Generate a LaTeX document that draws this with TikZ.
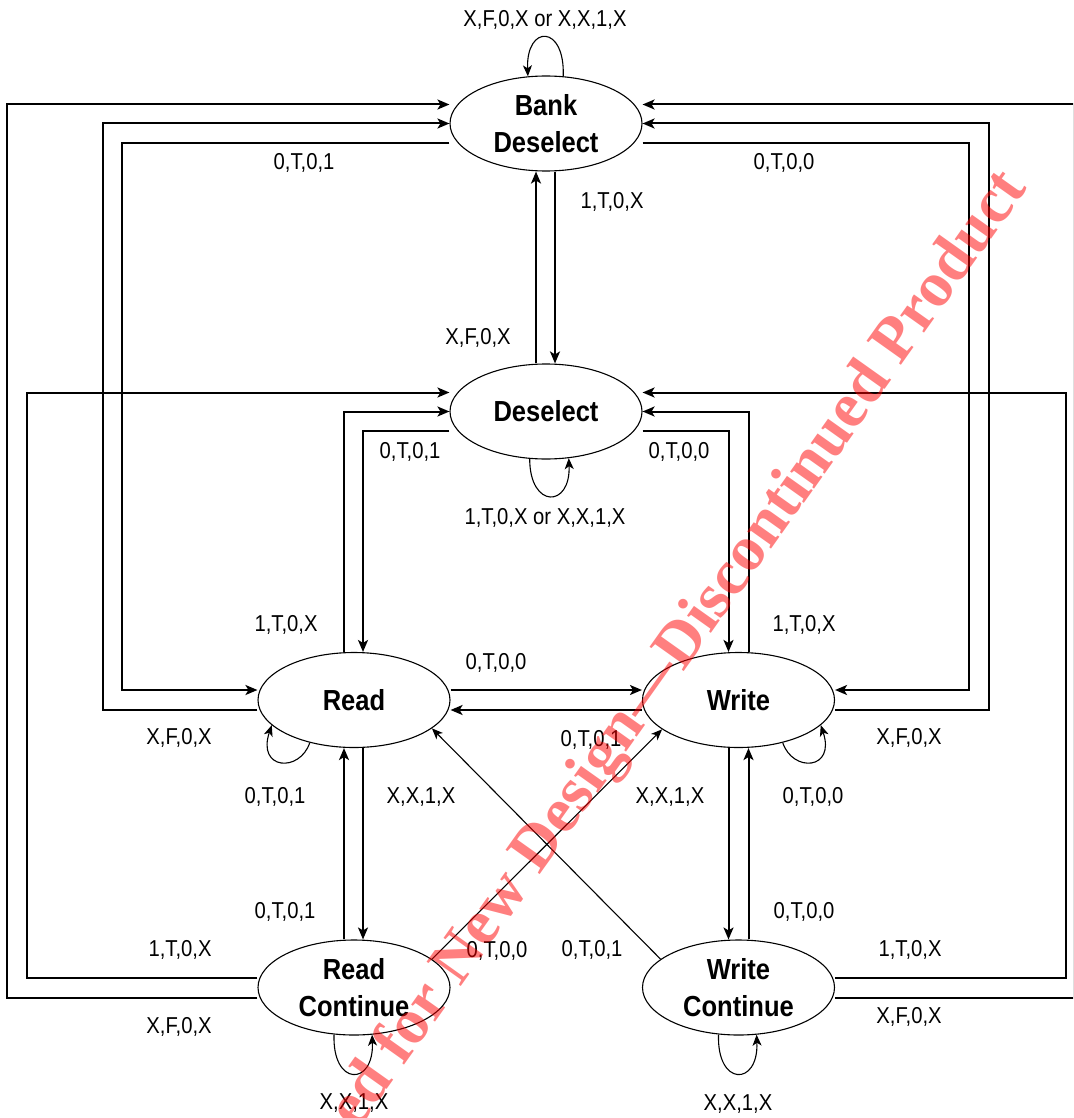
\documentclass[tikz,border=0pt]{standalone}
\usepackage{fontspec}
\setmainfont{Liberation Sans}[FakeStretch=0.88]
\newfontfamily\wmfont{Liberation Serif}
\usetikzlibrary{shapes.geometric,arrows.meta}
\begin{document}
\begin{tikzpicture}[x=1pt,y=-1pt,
  state/.style={ellipse, draw, line width=1.1pt, fill=white, minimum width=192pt, minimum height=95pt, inner sep=0pt, align=center, font=\fontsize{29}{37}\selectfont\bfseries},
  conn/.style={line width=2pt, -{Stealth[length=12pt,width=10pt,inset=3pt]}},
  thinconn/.style={line width=1.1pt, -{Stealth[length=11pt,width=9pt,inset=3pt]}},
  lab/.style={inner sep=0pt, font=\fontsize{23}{27}\selectfont},
  wm/.style={inner sep=0pt, text=red, text opacity=0.5, font=\wmfont\fontsize{64}{70}\selectfont\bfseries}]
\clip (0,0) rectangle (1073,1118);
\fill[white] (0,0) rectangle (1073,1118);

% states
\node[state] (BD) at (546,123.5) {Bank\\Deselect};
\node[state] (DS) at (546,411.5) {Deselect};
\node[state] (RD) at (354,700) {Read};
\node[state] (WR) at (738.5,700) {Write};
\node[state] (RC) at (354,987.5) {Read\\Continue};
\node[state] (WC) at (738.5,987.5) {Write\\Continue};

% Bank Deselect <-> Deselect
\draw[conn] ([xshift=9pt]BD.south) -- ([xshift=9pt]DS.north);
\draw[conn] ([xshift=-10pt]DS.north) -- ([xshift=-10pt]BD.south);

% left side loops
\draw[conn] ([yshift=-19.5pt]BD.west) -- ++(-327,0) |- ([yshift=10pt]RD.west);
\draw[conn] ([yshift=-10pt]RD.west) -- ++(-154,0) |- (BD.west);
\draw[conn] ([yshift=-10pt]RC.west) -- ++(-250.4,0) |- ([yshift=19pt]BD.west);
\draw[conn] ([yshift=10pt]RC.west) -- ++(-230.5,0) |- ([yshift=19pt]DS.west);
\draw[conn] ([xshift=-10pt]RD.north) |- (DS.west);
\draw[conn] ([yshift=-19.5pt]DS.west) -| ([xshift=9pt]RD.north);

% right side loops
\draw[conn] ([yshift=-19.5pt]BD.east) -- ++(326,0) |- ([yshift=10pt]WR.east);
\draw[conn] ([yshift=-10pt]WR.east) -- ++(153.5,0) |- (BD.east);
\draw[conn] ([yshift=-10pt]WC.east) -- ++(239,0) |- ([yshift=19pt]BD.east);
\draw[conn] ([yshift=10pt]WC.east) -- ++(231,0) |- ([yshift=19pt]DS.east);
\draw[conn] ([xshift=10pt]WR.north) |- (DS.east);
\draw[conn] ([yshift=-19.5pt]DS.east) -| ([xshift=-10pt]WR.north);

% Read <-> Write
\draw[conn] ([yshift=10pt]RD.east) -- ([yshift=10pt]WR.west);
\draw[conn] ([yshift=-10pt]WR.west) -- ([yshift=-10pt]RD.east);

% Read <-> Read Continue, Write <-> Write Continue
\draw[conn] ([xshift=9pt]RD.south) -- ([xshift=9pt]RC.north);
\draw[conn] ([xshift=-10pt]RC.north) -- ([xshift=-10pt]RD.south);
\draw[conn] ([xshift=-10pt]WR.south) -- ([xshift=-10pt]WC.north);
\draw[conn] ([xshift=10pt]WC.north) -- ([xshift=10pt]WR.south);

% diagonals
\draw[thinconn] (RC.20) -- (WR.201);
\draw[thinconn] (WC.160) -- (RD.-20);

% self loops
\draw[thinconn] (BD.70) .. controls +(2,-52) and +(-2,-52) .. (BD.111);
\draw[thinconn] (DS.251) .. controls +(0,50) and +(2,50) .. (DS.-64);
\draw[thinconn] (RD.224) .. controls +(-10,30) and +(-15,45) .. (RD.197);
\draw[thinconn] (WR.-44) .. controls +(10,30) and +(15,45) .. (WR.-17);
\draw[thinconn] (RC.247) .. controls +(-2,52) and +(2,52) .. (RC.-69);
\draw[thinconn] (WC.247) .. controls +(-2,52) and +(2,52) .. (WC.-69);

% labels
\node[lab] (l1) at (545,20) {X,F,0,X or X,X,1,X};
\node[lab] (l2) at (304,163) {0,T,0,1};
\node[lab] (l3) at (784,163) {0,T,0,0};
\node[lab] (l4) at (612,202) {1,T,0,X};
\node[lab] (l5) at (478,338) {X,F,0,X};
\node[lab] (l6) at (410,452) {0,T,0,1};
\node[lab] (l7) at (679,452) {0,T,0,0};
\node[lab] (l8) at (545,518) {1,T,0,X or X,X,1,X};
\node[lab] (l9) at (286,625) {1,T,0,X};
\node[lab] (l10) at (804,625) {1,T,0,X};
\node[lab] (l11) at (496,663) {0,T,0,0};
\node[lab] (l12) at (179,738) {X,F,0,X};
\node[lab] (l13) at (591,740) {0,T,0,1};
\node[lab] (l14) at (909,738) {X,F,0,X};
\node[lab] (l15) at (275,797) {0,T,0,1};
\node[lab] (l16) at (421,797) {X,X,1,X};
\node[lab] (l17) at (670,797) {X,X,1,X};
\node[lab] (l18) at (813,797) {0,T,0,0};
\node[lab] (l19) at (285,912) {0,T,0,1};
\node[lab] (l20) at (804,912) {0,T,0,0};
\node[lab] (l21) at (180,950) {1,T,0,X};
\node[lab] (l22) at (497,951) {0,T,0,0};
\node[lab] (l23) at (592,950) {0,T,0,1};
\node[lab] (l24) at (910,950) {1,T,0,X};
\node[lab] (l25) at (179,1027) {X,F,0,X};
\node[lab] (l26) at (909,1017) {X,F,0,X};
\node[lab] (l27) at (354,1103) {X,X,1,X};
\node[lab] (l28) at (738,1104) {X,X,1,X};

% watermark
\node[wm, rotate=54.6] (wmark) at (680,651) {ed for New Design—Discontinued Product};
\end{tikzpicture}
\end{document}
